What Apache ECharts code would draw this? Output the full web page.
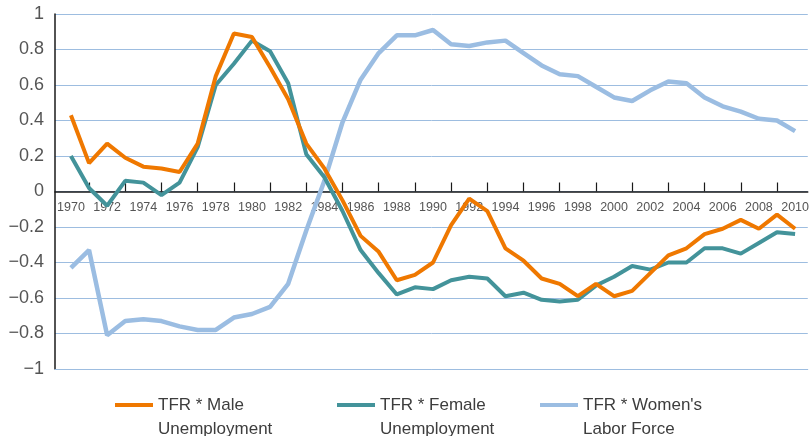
<!DOCTYPE html>
<html>
<head>
<meta charset="utf-8">
<script src="https://cdn.jsdelivr.net/npm/echarts@6/dist/echarts.min.js"></script>
<style>
  html, body { margin: 0; padding: 0; background: #fff; }
  #chart { width: 812px; height: 436px; }
</style>
</head>
<body>
<div id="chart"></div>
<script>
// 年份
var years = [];
for (var y = 1970; y <= 2010; y++) years.push(y);

// 标签 / 刻度位置
var labelYears = [1970,1972,1974,1976,1978,1980,1982,1984,1986,1988,1990,1992,1994,1996,1998,2000,2002,2004,2006,2008,2010];
var tickYears = [1971,1973,1975,1977,1979,1981,1983,1985,1987,1989,1991,1993,1995,1997,1999,2001,2003,2005,2007,2009];

var names = ['TFR * Male\nUnemployment', 'TFR * Female\nUnemployment', 'TFR * Women\'s\nLabor Force'];

var maleUnemp = [0.43,0.16,0.27,0.19,0.14,0.13,0.11,0.27,0.65,0.89,0.87,0.70,0.52,0.27,0.13,-0.05,-0.25,-0.34,-0.50,-0.47,-0.40,-0.19,-0.04,-0.11,-0.32,-0.39,-0.49,-0.52,-0.59,-0.52,-0.59,-0.56,-0.46,-0.36,-0.32,-0.24,-0.21,-0.16,-0.21,-0.13,-0.21];
var femaleUnemp = [0.20,0.02,-0.08,0.06,0.05,-0.02,0.05,0.25,0.60,0.72,0.85,0.79,0.61,0.21,0.08,-0.11,-0.33,-0.46,-0.58,-0.54,-0.55,-0.50,-0.48,-0.49,-0.59,-0.57,-0.61,-0.62,-0.61,-0.53,-0.48,-0.42,-0.44,-0.40,-0.40,-0.32,-0.32,-0.35,-0.29,-0.23,-0.24];
var laborForce = [-0.43,-0.33,-0.81,-0.73,-0.72,-0.73,-0.76,-0.78,-0.78,-0.71,-0.69,-0.65,-0.52,-0.22,0.06,0.39,0.63,0.78,0.88,0.88,0.91,0.83,0.82,0.84,0.85,0.78,0.71,0.66,0.65,0.59,0.53,0.51,0.57,0.62,0.61,0.53,0.48,0.45,0.41,0.40,0.34];

function pairs(vals) {
    return years.map(function (yr, i) { return [yr, vals[i]]; });
}

var myChart = echarts.init(document.getElementById('chart'));
var txt = '#555555';
var gridBlue = '#9dbde0';
var legendText = { color: '#3d3d3d', fontSize: 17, lineHeight: 24, fontFamily: 'Liberation Sans, Arial, sans-serif' };

// 图例：空第一行，让色块对齐第一行文字
function oneLegend(name, left) {
    return {
        data: [name],
        left: left,
        top: 364,
        icon: 'rect',
        itemWidth: 38,
        itemHeight: 4,
        itemGap: 0,
        formatter: function (n) { return '\n' + n; },
        textStyle: legendText
    };
}

var options = {
    animation: false,
    backgroundColor: '#ffffff',
    grid: { left: 55, right: 0, top: 14, bottom: 67 },
    legend: [
        oneLegend(names[0], 110),
        oneLegend(names[1], 332),
        oneLegend(names[2], 535)
    ],
    xAxis: [
        {
            type: 'value',
            min: 1969.12,
            max: 2010.7,
            offset: -177.5,
            axisLine: { onZero: false, lineStyle: { color: '#1a1a1a', width: 1.5 } },
            axisTick: { show: true, inside: true, length: 9, customValues: tickYears, lineStyle: { color: '#1a1a1a', width: 1.2 } },
            axisLabel: {
                customValues: labelYears,
                color: txt,
                fontSize: 12.5,
                fontFamily: 'Liberation Sans, Arial, sans-serif',
                margin: 10,
                formatter: function (v) { return String(v); }
            },
            splitLine: { show: false }
        },
        {
            // 只画底部 -1 处那条浅蓝线
            type: 'value',
            position: 'bottom',
            min: 1969.12,
            max: 2010.7,
            axisLine: { show: true, onZero: false, lineStyle: { color: gridBlue, width: 1 } },
            axisTick: { show: false },
            axisLabel: { show: false },
            splitLine: { show: false }
        }
    ],
    yAxis: {
        type: 'value',
        min: -1,
        max: 1,
        interval: 0.2,
        axisLine: { show: true, onZero: false, lineStyle: { color: '#1a1a1a', width: 1.5 } },
        axisTick: { show: false },
        axisLabel: {
            color: txt,
            fontSize: 18,
            fontFamily: 'Liberation Sans, Arial, sans-serif',
            margin: 11,
            formatter: function (v) {
                var s = String(Math.round(v * 10) / 10);
                return s.replace('-', '\u2212');
            }
        },
        splitLine: { show: true, lineStyle: { color: gridBlue, width: 1 } }
    },
    series: [
        {
            name: names[0], type: 'line', data: pairs(maleUnemp),
            showSymbol: false, color: '#ef7800', lineStyle: { width: 4 }, z: 4
        },
        {
            name: names[1], type: 'line', data: pairs(femaleUnemp),
            showSymbol: false, color: '#43939a', lineStyle: { width: 4 }, z: 3
        },
        {
            name: names[2], type: 'line', data: pairs(laborForce),
            showSymbol: false, color: '#9bbde2', lineStyle: { width: 4.5 }, z: 2
        }
    ]
};
myChart.setOption(options);
</script>
</body>
</html>
